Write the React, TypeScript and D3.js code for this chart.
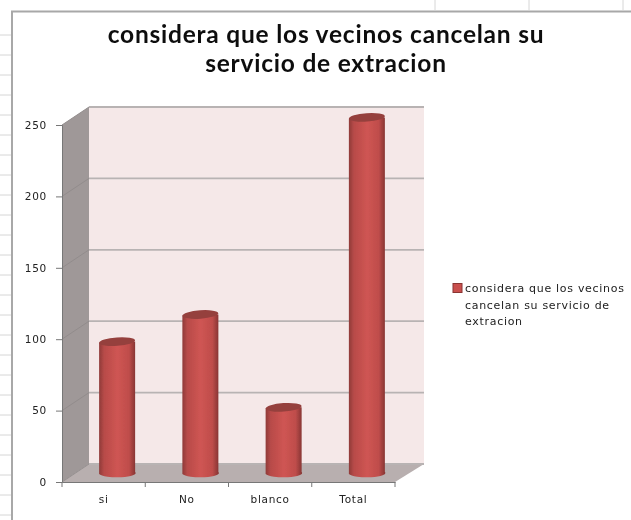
import React, { useEffect, useRef } from "react";
import * as d3 from "d3";

const categories = ["si", "No", "blanco", "Total"];
const values = [92, 111, 46, 249];
const yTicks = [0, 50, 100, 150, 200, 250];
const titleLines = ["considera que los vecinos cancelan su", "servicio de extracion"];
const legendLines = ["considera que los vecinos", "cancelan su servicio de", "extracion"];

export default function App() {
	const svgRef = useRef<SVGSVGElement>(null);

	useEffect(() => {
		const width = 631;
		const height = 520;
		const svg = d3.select(svgRef.current);
		svg.selectAll("*").remove();

		const defs = svg.append("defs");

		// Horizontal shading of the cylinders
		const grad = defs.append("linearGradient").attr("id", "cyl").attr("x1", 0).attr("x2", 1).attr("y1", 0).attr("y2", 0);
		grad.append("stop").attr("offset", "0%").attr("stop-color", "#8f3a38");
		grad.append("stop").attr("offset", "14%").attr("stop-color", "#b84b49");
		grad.append("stop").attr("offset", "50%").attr("stop-color", "#cf5553");
		grad.append("stop").attr("offset", "82%").attr("stop-color", "#bf4d4b");
		grad.append("stop").attr("offset", "100%").attr("stop-color", "#843432");

		// Slight softening, the reference is a resized screenshot
		const soft = defs.append("filter").attr("id", "soft");
		soft.append("feGaussianBlur").attr("stdDeviation", 0.5);

		svg.append("rect").attr("width", width).attr("height", height).attr("fill", "#fff");

		// Spreadsheet cells behind the chart
		const sheet = svg.append("g").attr("stroke", "#d6d6d6").attr("stroke-width", 1);
		d3.range(35, height, 20).forEach((y) => {
			sheet.append("line").attr("x1", 0).attr("x2", 11).attr("y1", y).attr("y2", y);
		});
		[435, 529, 623].forEach((x) => {
			sheet.append("line").attr("x1", x).attr("x2", x).attr("y1", 0).attr("y2", 10);
		});
		svg.append("path")
			.attr("d", `M12,${height}V11.5H${width}`)
			.attr("fill", "none")
			.attr("stroke", "#a8a8a8")
			.attr("stroke-width", 2);

		// Front edge scales of the 3D box
		const x = d3.scaleBand().domain(categories).range([62, 395]);
		const y = d3.scaleLinear().domain([0, 250]).range([482, 125]);
		const depthX = 27;
		const depthY = -18;

		const plot = svg.append("g").attr("filter", "url(#soft)");

		// Back wall, side wall and floor
		const x0 = x.range()[0];
		const x1 = x.range()[1];
		const backRight = x1 + 29;
		plot.append("path")
			.attr("d", `M${x0 + depthX},${y(0) + depthY}V${y(250) + depthY}H${backRight}V${y(0) + depthY}Z`)
			.attr("fill", "#f5e8e8");
		plot.append("path")
			.attr("d", `M${x0},${y(0)}V${y(250)}L${x0 + depthX},${y(250) + depthY}V${y(0) + depthY}Z`)
			.attr("fill", "#9f9898");
		plot.append("path")
			.attr("d", `M${x0},${y(0)}H${x1}L${backRight},${y(0) + depthY}H${x0 + depthX}Z`)
			.attr("fill", "#b8afaf");

		// Gridlines on the side wall and the back wall
		yTicks.forEach((t) => {
			plot.append("line")
				.attr("x1", x0 + depthX)
				.attr("x2", backRight)
				.attr("y1", y(t) + depthY)
				.attr("y2", y(t) + depthY)
				.attr("stroke", "#b8b3b3")
				.attr("stroke-width", 1.8);
			plot.append("line")
				.attr("x1", x0)
				.attr("x2", x0 + depthX)
				.attr("y1", y(t))
				.attr("y2", y(t) + depthY)
				.attr("stroke", "#928c8c")
				.attr("stroke-width", 1);
		});

		// Cylinders sit halfway into the depth of the box
		const rx = 18;
		const ry = 4.2;
		categories.forEach((c, i) => {
			const cx = x(c)! + x.bandwidth() / 2 + depthX / 2;
			const bottom = y(0) + depthY / 2;
			const top = y(values[i]) + depthY / 2;
			plot.append("path")
				.attr("d", `M${cx - rx},${top + 1}V${bottom + 1}A${rx},${ry} 0 0 0 ${cx + rx},${bottom - 1}V${top}Z`)
				.attr("fill", "url(#cyl)");
			plot.append("ellipse")
				.attr("cx", cx)
				.attr("cy", top)
				.attr("rx", rx)
				.attr("ry", ry)
				.attr("transform", `rotate(-4 ${cx} ${top})`)
				.attr("fill", "#95403e");
		});

		// Axes
		const yAxis = plot.append("g")
			.attr("transform", `translate(${x0},0)`)
			.call(d3.axisLeft(y).tickValues(yTicks).tickSize(6).tickPadding(9));
		const xAxis = plot.append("g")
			.attr("transform", `translate(0,${y(0)})`)
			.call(d3.axisBottom(x).tickSize(0).tickPadding(14));
		plot.append("g")
			.selectAll("line")
			.data(d3.range(categories.length + 1))
			.join("line")
			.attr("x1", (i) => x0 + i * x.step())
			.attr("x2", (i) => x0 + i * x.step())
			.attr("y1", y(0))
			.attr("y2", y(0) + 5)
			.attr("stroke", "#777");
		[yAxis, xAxis].forEach((axis) => {
			axis.selectAll("path").attr("stroke", "#777");
			axis.selectAll(".tick line").attr("stroke", "#777");
			axis.selectAll("text")
				.attr("fill", "#222")
				.style("font-family", "'DejaVu Sans'")
				.style("font-size", "10.5px")
				.style("letter-spacing", "0.7px");
		});

		// Title
		svg.append("g")
			.attr("filter", "url(#soft)")
			.selectAll("text")
			.data(titleLines)
			.join("text")
			.attr("x", 326)
			.attr("y", (d, i) => 43 + i * 29)
			.attr("text-anchor", "middle")
			.style("font-family", "Lato")
			.style("font-weight", 700)
			.style("font-size", "24.5px")
			.style("letter-spacing", "0.78px")
			.attr("fill", "#111")
			.text((d) => d);

		// Legend
		const legend = svg.append("g").attr("filter", "url(#soft)");
		legend.append("rect")
			.attr("x", 453)
			.attr("y", 283.5)
			.attr("width", 9)
			.attr("height", 9)
			.attr("fill", "#c9504e")
			.attr("stroke", "#8a3533");
		legend.selectAll("text")
			.data(legendLines)
			.join("text")
			.attr("x", 465)
			.attr("y", (d, i) => 292 + i * 16.5)
			.style("font-family", "'DejaVu Sans'")
			.style("font-size", "11px")
			.style("letter-spacing", "0.7px")
			.attr("fill", "#222")
			.text((d) => d);
	}, []);

	return <svg ref={svgRef} width={631} height={520} style={{ position: "absolute", left: 0, top: 0 }} />;
}
